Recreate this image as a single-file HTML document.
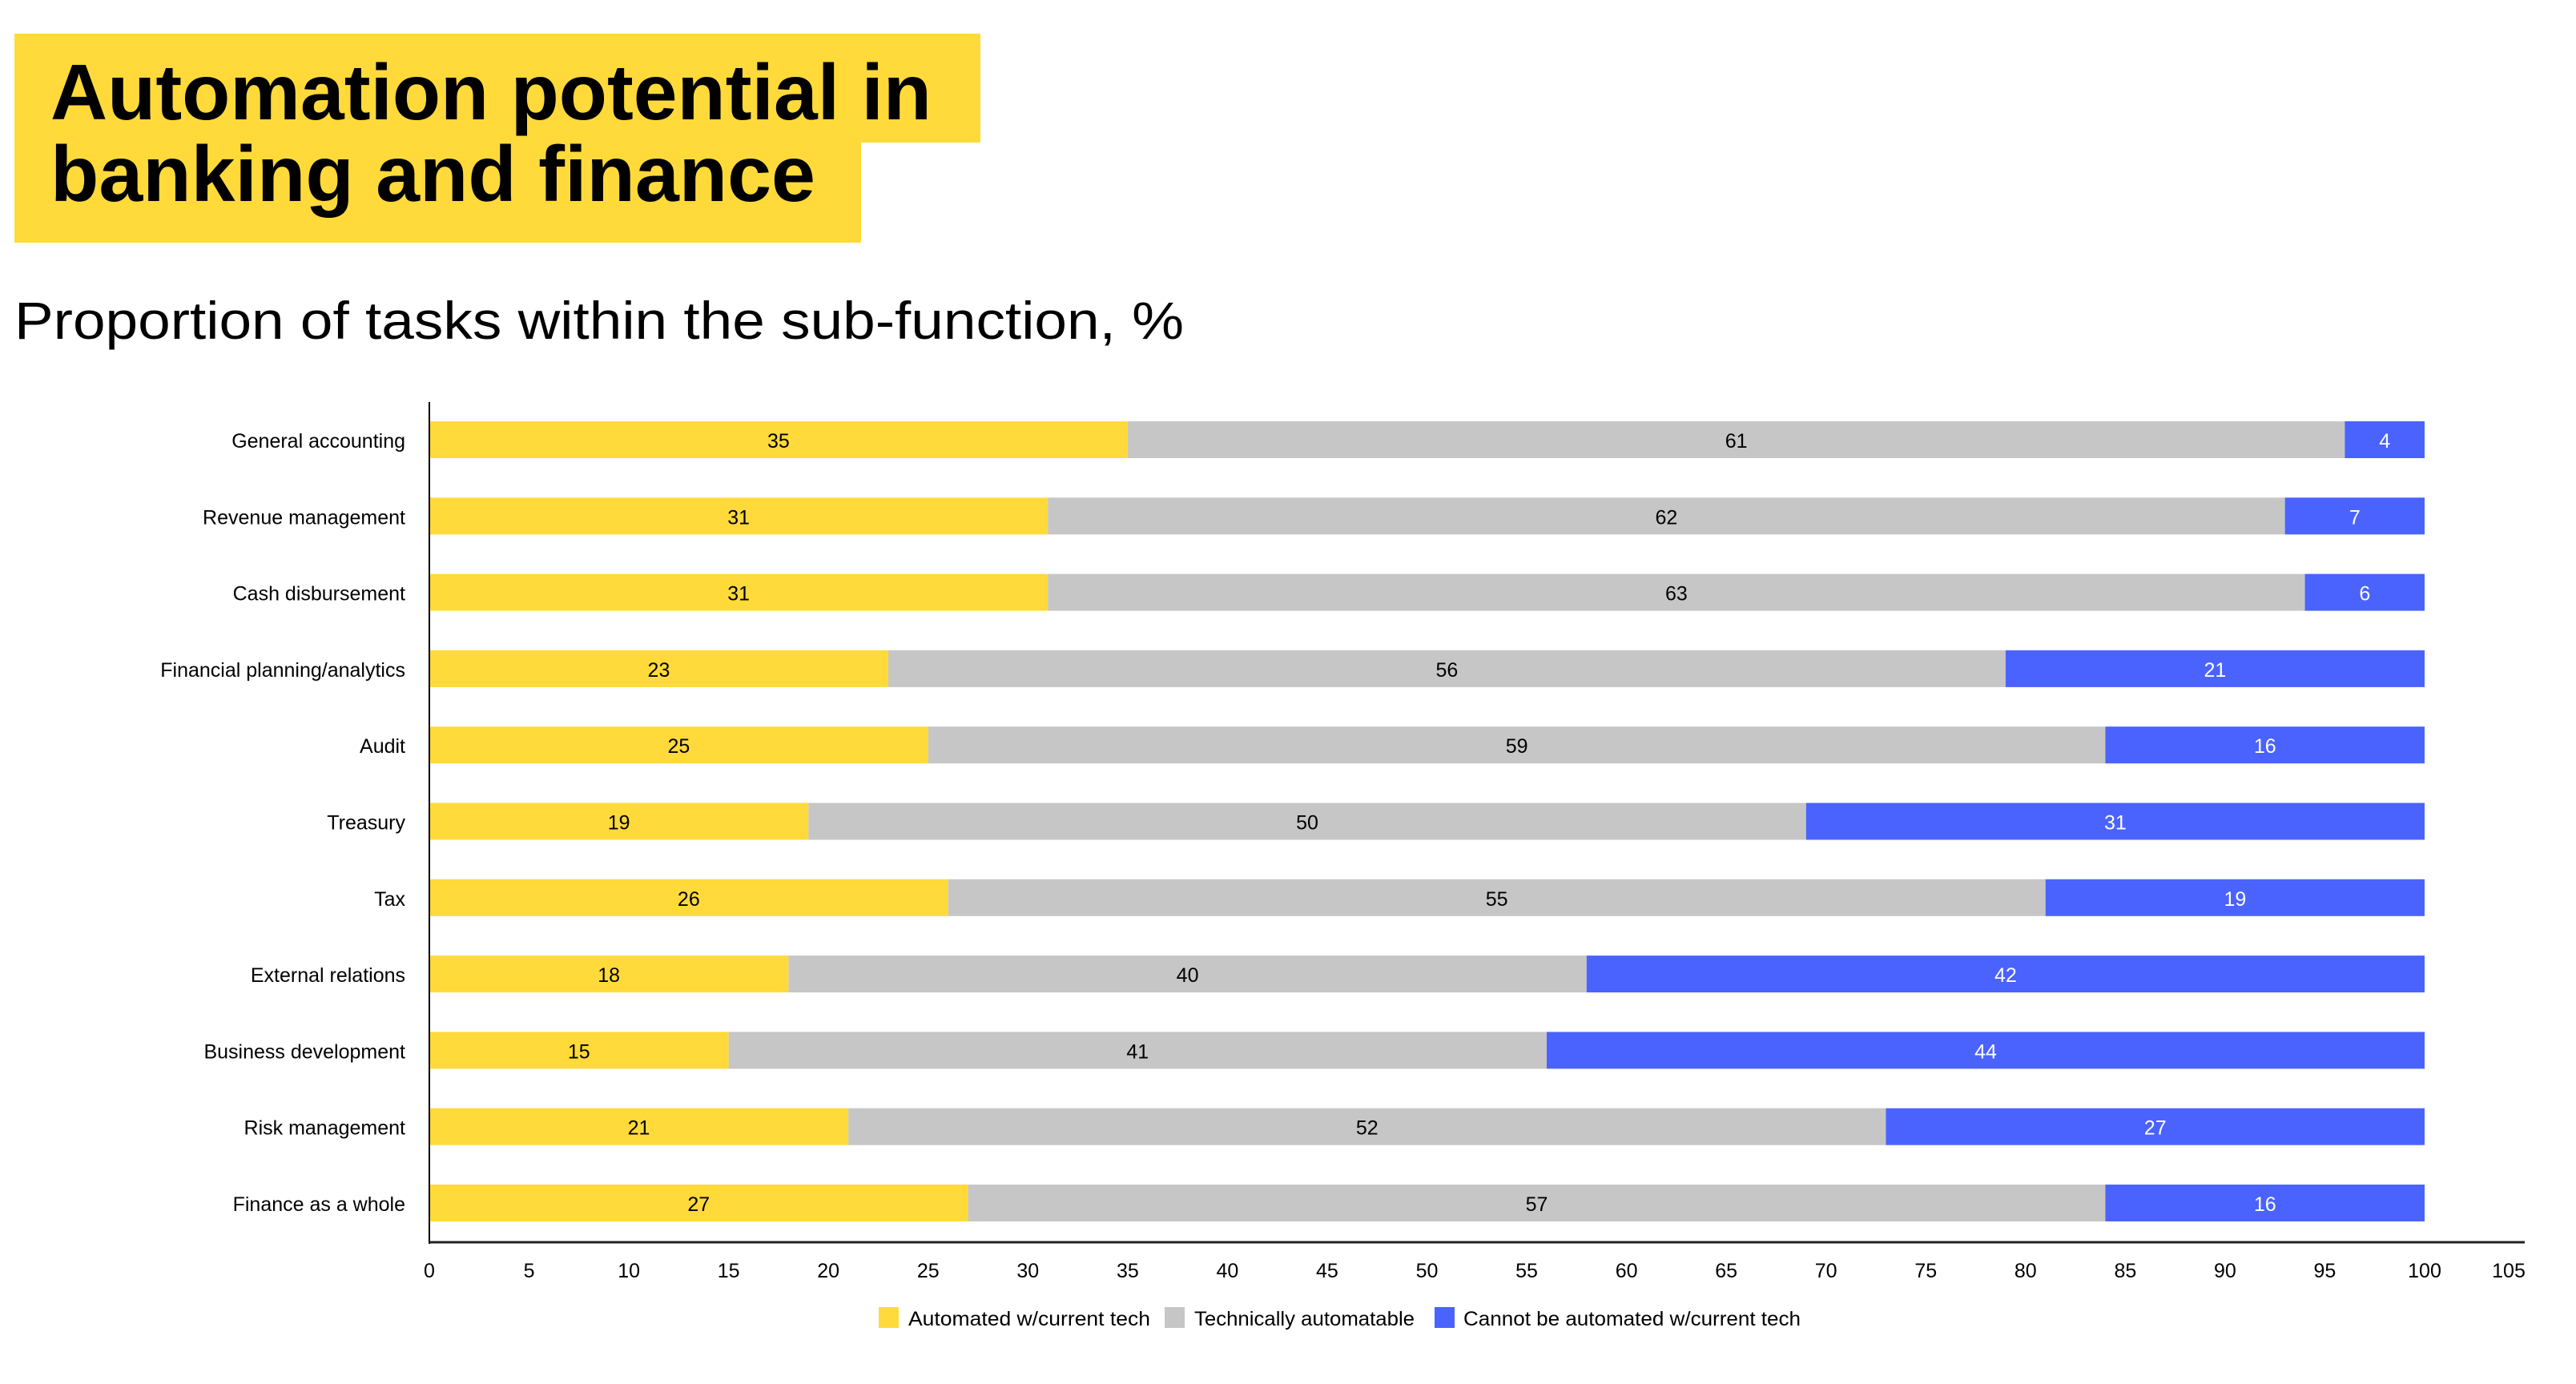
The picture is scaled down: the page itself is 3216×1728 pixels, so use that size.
<!DOCTYPE html>
<html><head><meta charset="utf-8"><style>
html,body{margin:0;padding:0;background:#fff;}
svg{display:block;}
text{font-family:"Liberation Sans",sans-serif;}
</style></head><body>
<svg width="3216" height="1728" viewBox="0 0 3216 1728" xmlns="http://www.w3.org/2000/svg">
<rect x="18" y="42" width="1206" height="136" fill="#FFDA3A"/>
<rect x="18" y="42" width="1057" height="261" fill="#FFDA3A"/>
<text x="63" y="149" font-size="98" font-weight="bold" textLength="1100" lengthAdjust="spacingAndGlyphs">Automation potential in</text>
<text x="63" y="251" font-size="98" font-weight="bold" textLength="955" lengthAdjust="spacingAndGlyphs">banking and finance</text>
<text x="18" y="423" font-size="66" textLength="1460" lengthAdjust="spacingAndGlyphs">Proportion of tasks within the sub-function, %</text>
<g id="bars"></g>
<line x1="536" y1="502" x2="536" y2="1553" stroke="#000" stroke-width="2"/>
<line x1="536" y1="1551" x2="3152" y2="1551" stroke="#222" stroke-width="3"/>
<g id="ticks" font-size="25" text-anchor="middle"></g>
<rect x="1097" y="1632" width="25" height="26" fill="#FFDA3A"/>
<text x="1134" y="1655" font-size="25" textLength="302" lengthAdjust="spacingAndGlyphs">Automated w/current tech</text>
<rect x="1454" y="1632" width="25" height="26" fill="#C6C6C6"/>
<text x="1491" y="1655" font-size="25" textLength="275" lengthAdjust="spacingAndGlyphs">Technically automatable</text>
<rect x="1791" y="1632" width="25" height="26" fill="#4A63FF"/>
<text x="1827" y="1655" font-size="25" textLength="421" lengthAdjust="spacingAndGlyphs">Cannot be automated w/current tech</text>
<script>
const d=[["General accounting",35,61,4],["Revenue management",31,62,7],["Cash disbursement",31,63,6],["Financial planning/analytics",23,56,21],["Audit",25,59,16],["Treasury",19,50,31],["Tax",26,55,19],["External relations",18,40,42],["Business development",15,41,44],["Risk management",21,52,27],["Finance as a whole",27,57,16]];
const ns="http://www.w3.org/2000/svg",g=document.getElementById("bars"),x0=536,u=24.91;
function el(t,a,p,txt){const e=document.createElementNS(ns,t);for(const k in a)e.setAttribute(k,a[k]);if(txt!==undefined)e.textContent=txt;p.appendChild(e);return e;}
const cols=["#FFDA3A","#C6C6C6","#4A63FF"],tc=["#000","#000","#fff"];
d.forEach((r,i)=>{const cy=549+i*95.3;let s=0;
 el("text",{x:506,y:cy+10,"font-size":25,"text-anchor":"end"},g,r[0]);
 for(let j=0;j<3;j++){const v=r[j+1];el("rect",{x:x0+s*u,y:cy-23,width:v*u,height:46,fill:cols[j]},g);
 el("text",{x:x0+(s+v/2)*u,y:cy+10,"font-size":25,"text-anchor":"middle",fill:tc[j]},g,v);s+=v;}});
const t=document.getElementById("ticks");
for(let v=0;v<=100;v+=5)el("text",{x:x0+v*u,y:1595},t,v);
el("text",{x:3132,y:1595},t,105);
</script>
</svg>
</body></html>
